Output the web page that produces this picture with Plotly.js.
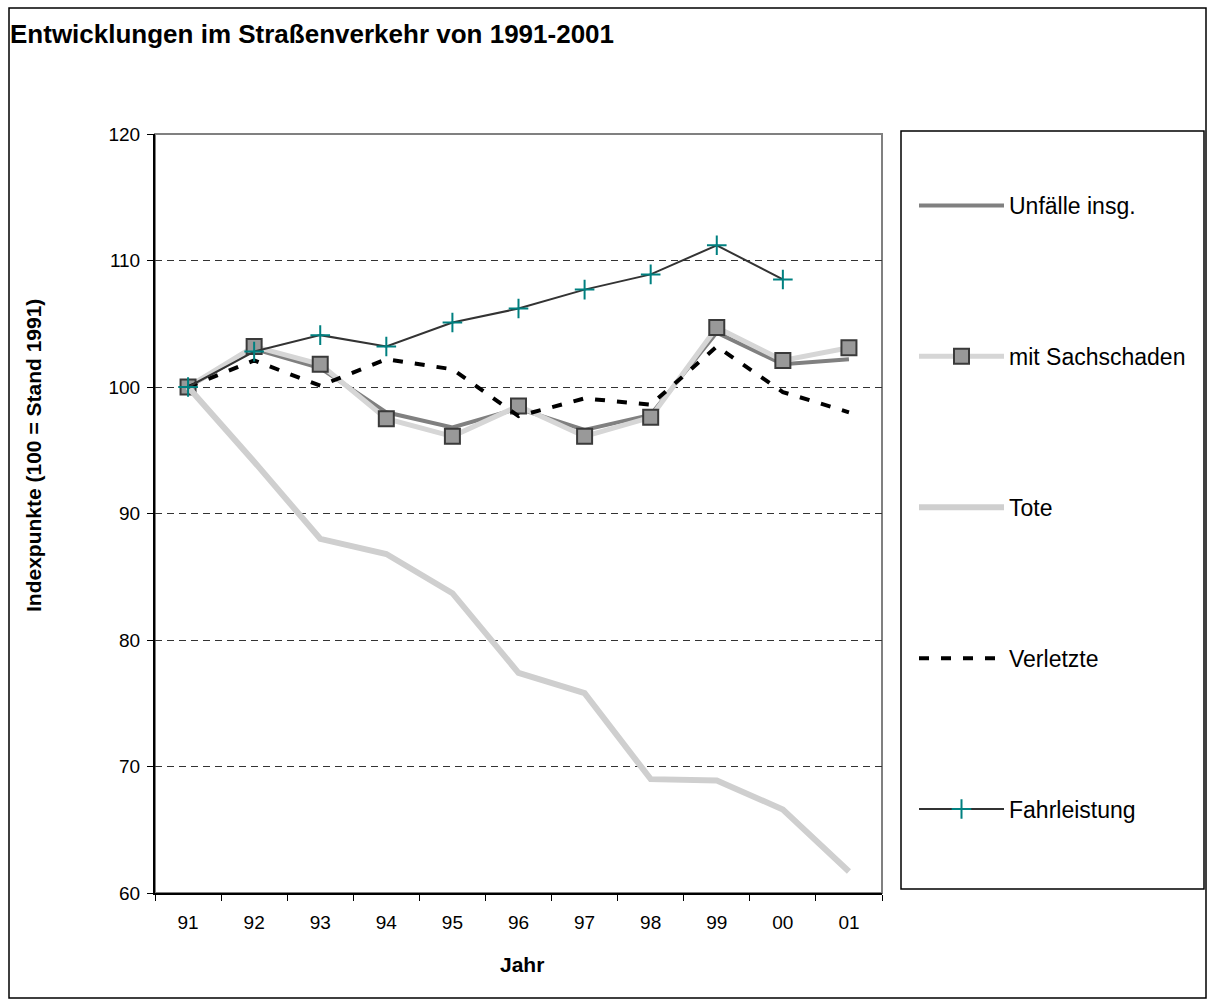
<!DOCTYPE html>
<html>
<head>
<meta charset="utf-8">
<script src="https://cdn.plot.ly/plotly-3.0.1.min.js"></script>
<style>html,body{margin:0;padding:0;background:#fff;}#chart{width:1208px;height:1003px;}</style>
</head>
<body>
<div id="chart"></div>
<script>
var years = ['91','92','93','94','95','96','97','98','99','00','01'];
var unfaelle = [100, 103.0, 101.5, 98.0, 96.8, 98.3, 96.6, 97.8, 104.3, 101.8, 102.2];
var sachschaden = [100, 103.2, 101.8, 97.5, 96.1, 98.5, 96.1, 97.6, 104.7, 102.1, 103.1];
var tote = [100, 94.1, 88.0, 86.8, 83.7, 77.4, 75.8, 69.0, 68.9, 66.6, 61.7];
var verletzte = [100, 102.1, 100.1, 102.2, 101.4, 97.7, 99.1, 98.6, 103.2, 99.6, 98.0];
var fahrleistung = [100, 102.8, 104.1, 103.2, 105.1, 106.2, 107.7, 108.9, 111.2, 108.5, null];
var seriesNames = ['Unfälle insg.', 'mit Sachschaden', 'Tote', 'Verletzte', 'Fahrleistung'];

var FONT = 'Liberation Sans, Arial, sans-serif';
var W = 1208, H = 1003;
var L = 155, R = 882, T = 134, B = 893;
function px(x){ return (x - L) / (R - L); }
function py(y){ return (B - y) / (B - T); }

var traces = [
  {x: years, y: unfaelle, name: seriesNames[0], type: 'scatter', mode: 'lines', legendgroup: 'a',
   line: {color: '#808080', width: 4}},
  {x: years, y: sachschaden, name: seriesNames[1], type: 'scatter', mode: 'lines+markers', legendgroup: 'b',
   line: {color: '#d6d6d6', width: 5},
   marker: {symbol: 'square', size: 15, color: '#999999', line: {color: '#3a3a3a', width: 2}}},
  {x: years, y: tote, name: seriesNames[2], type: 'scatter', mode: 'lines', legendgroup: 'c',
   line: {color: '#cfcfcf', width: 6}},
  {x: years, y: verletzte, name: seriesNames[3], type: 'scatter', mode: 'lines', legendgroup: 'd',
   line: {color: '#000000', width: 4, dash: '10px,12px'}},
  {x: years, y: fahrleistung, name: seriesNames[4], type: 'scatter', mode: 'lines+markers', legendgroup: 'e',
   line: {color: '#333333', width: 2},
   marker: {symbol: 'cross-thin-open', size: 14, color: '#008080', line: {color: '#008080', width: 2}}}
];

var layout = {
  width: W, height: H,
  margin: {l: L, r: W - R, t: T, b: H - B, pad: 0},
  paper_bgcolor: '#ffffff', plot_bgcolor: '#ffffff',
  font: {family: FONT, size: 19, color: '#000'},
  title: {text: 'Entwicklungen im Straßenverkehr von 1991-2001', xref: 'container', yref: 'container',
          x: 10 / W, xanchor: 'left', y: 1 - 34 / H, yanchor: 'middle', pad: {l: 0, r: 0, t: 0, b: 0},
          font: {family: FONT, size: 26, weight: 'bold', color: '#000'}},
  xaxis: {type: 'category', range: [-0.5, 10.5], fixedrange: true,
          showline: true, linecolor: '#000', linewidth: 2,
          ticks: 'outside', tickson: 'boundaries', ticklen: 6, tickwidth: 1, tickcolor: '#000',
          ticklabelstandoff: 11,
          showgrid: false, zeroline: false,
          tickfont: {family: FONT, size: 19, color: '#000'}},
  yaxis: {range: [60, 120], dtick: 10, tick0: 60, fixedrange: true,
          showline: true, linecolor: '#000', linewidth: 2,
          ticks: 'outside', ticklen: 6, tickwidth: 1, tickcolor: '#000',
          ticklabelstandoff: 3,
          showgrid: true, gridcolor: '#333', gridwidth: 1, griddash: '7px,5px',
          zeroline: false,
          tickfont: {family: FONT, size: 19, color: '#000'}},
  showlegend: true,
  legend: {x: px(914), xanchor: 'left', y: py(184), yanchor: 'top',
           bgcolor: 'rgba(0,0,0,0)', borderwidth: 0,
           font: {family: FONT, size: 23, color: '#000'},
           tracegroupgap: 118, itemwidth: 85, traceorder: 'grouped'},
  annotations: [
    {text: 'Jahr', xref: 'paper', yref: 'paper', x: px(522), y: py(964), xanchor: 'center', yanchor: 'middle',
     showarrow: false, font: {family: FONT, size: 21, weight: 'bold', color: '#000'}},
    {text: 'Indexpunkte (100 = Stand 1991)', xref: 'paper', yref: 'paper', x: px(34), y: py(456), textangle: -90,
     xanchor: 'center', yanchor: 'middle', showarrow: false,
     font: {family: FONT, size: 21, weight: 'bold', color: '#000'}}
  ],
  shapes: [
    {type: 'rect', xref: 'paper', yref: 'paper', x0: 0, x1: 1, y0: 0, y1: 1,
     line: {color: '#808080', width: 2}, layer: 'below'},
    {type: 'rect', xref: 'paper', yref: 'paper', x0: px(901), x1: px(1204), y0: py(889), y1: py(131),
     line: {color: '#000', width: 1.5}},
    {type: 'rect', xref: 'paper', yref: 'paper', x0: px(9), x1: px(1206), y0: py(998), y1: py(8),
     line: {color: '#000', width: 1.5}}
  ]
};

Plotly.newPlot('chart', traces, layout, {displayModeBar: false, staticPlot: true});
</script>
</body>
</html>
